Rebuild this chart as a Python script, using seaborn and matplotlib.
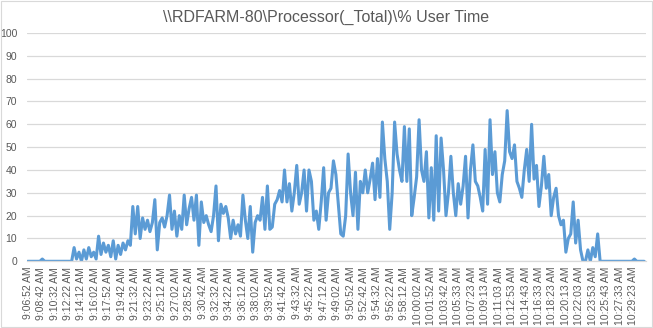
import numpy as np
import pandas as pd
import matplotlib
matplotlib.use("Agg")
import matplotlib.pyplot as plt
import seaborn as sns

title = "\\\\RDFARM-80\\Processor(_Total)\\% User Time"

tick_labels = [
    "9:06:52 AM", "9:08:42 AM", "9:10:32 AM", "9:12:22 AM", "9:14:12 AM", "9:16:02 AM",
    "9:17:52 AM", "9:19:42 AM", "9:21:32 AM", "9:23:22 AM", "9:25:12 AM", "9:27:02 AM",
    "9:28:52 AM", "9:30:42 AM", "9:32:32 AM", "9:34:22 AM", "9:36:12 AM", "9:38:02 AM",
    "9:39:52 AM", "9:41:42 AM", "9:43:32 AM", "9:45:22 AM", "9:47:12 AM", "9:49:02 AM",
    "9:50:52 AM", "9:52:42 AM", "9:54:32 AM", "9:56:22 AM", "9:58:12 AM", "10:00:02 AM",
    "10:01:52 AM", "10:03:42 AM", "10:05:33 AM", "10:07:23 AM", "10:09:13 AM", "10:11:03 AM",
    "10:12:53 AM", "10:14:43 AM", "10:16:33 AM", "10:18:23 AM", "10:20:13 AM", "10:22:03 AM",
    "10:23:53 AM", "10:25:43 AM", "10:27:33 AM", "10:29:23 AM",
]
samples_per_label = 11
samples_per_value = 2

user_time = [
    0, 0, 0, 0, 0, 0, 1, 0, 0, 0, 0, 0, 0, 0, 0, 0, 0, 0,
    0,
    6, 1, 4, 0, 5, 1, 6, 2, 4, 1, 11, 3, 8, 4, 7, 2, 9, 1, 7, 3, 8, 5, 9, 7,
    24, 12, 24, 10, 19, 14, 18, 13, 17, 27,
    5, 17, 19, 15, 20, 29, 14, 22, 11, 20,
    14, 29, 16, 23, 28, 18, 29, 7, 26, 17,
    20, 16, 13, 20, 33, 9, 25, 21, 24, 19,
    10, 18, 12, 16, 11, 29, 18, 10, 24, 4,
    17, 20, 18, 28, 14, 33, 14, 15, 25, 27,
    31, 26, 40, 26, 34, 22, 30, 42, 25, 30,
    40, 22, 40, 35, 18, 22, 14, 26, 41, 18,
    30, 32, 44, 38, 25, 12, 11, 20, 47, 30,
    20, 39, 14, 35, 30, 40, 30, 36, 43, 27,
    45, 28, 61, 45, 35, 14, 30, 61, 47, 40,
    35, 59, 35, 58, 20, 28, 37, 62, 40, 35,
    48, 19, 41, 18, 55, 22, 54, 40, 20, 30,
    46, 30, 20, 34, 25, 33, 46, 19, 40, 51,
    35, 33, 28, 22, 49, 25, 62, 38, 48, 30,
    26, 38, 44, 66, 48, 45, 51, 35, 32, 28,
    40, 49, 35, 60, 36, 42, 24, 33, 46, 32,
    38, 20, 28, 32, 20, 16, 18, 4, 10, 12,
    26, 8, 18, 5, 0, 0, 5, 0, 6, 2,
    12,
    0, 0, 0, 0, 0, 0, 0, 0, 0, 0, 0, 0, 0, 0, 1, 0, 0, 0, 0,
]

df = pd.DataFrame({
    "sample": np.arange(len(user_time)) * samples_per_value,
    "value": user_time,
})

sns.set_style("white")
plt.rcParams["font.family"] = ["Liberation Sans Narrow", "Liberation Sans", "DejaVu Sans"]

fig = plt.figure(figsize=(6.53, 3.28), dpi=100)
ax = fig.add_axes([27 / 653, 1 - 261.3 / 328, (646 - 27) / 653, (261.3 - 33) / 328])

sns.lineplot(data=df, x="sample", y="value", ax=ax, color="#5B9BD5", linewidth=2.2)

ax.set_ylim(0, 100)
ax.set_xlim(-0.5, df["sample"].max() + 1.5)
ax.set_yticks(np.arange(0, 101, 10))
ax.set_xticks(np.arange(len(tick_labels)) * samples_per_label)
ax.set_xticklabels(tick_labels, rotation=90)
ax.set_xlabel("")
ax.set_ylabel("")
ax.grid(axis="y", color="#D9D9D9", linewidth=0.9)
ax.set_axisbelow(True)
for s in ["top", "right", "left"]:
    ax.spines[s].set_visible(False)
ax.spines["bottom"].set_color("#D9D9D9")
ax.spines["bottom"].set_linewidth(0.9)
ax.tick_params(axis="both", length=0, colors="#595959", labelsize=7.5)
ax.tick_params(axis="y", pad=7)
ax.tick_params(axis="x", pad=4)

fig.text(0.5, 1 - 17 / 328, title, ha="center", va="center", fontsize=11.5, color="#595959")

fig.patches.append(plt.Rectangle((0.001, 0.002), 0.997, 0.995, transform=fig.transFigure,
                                 fill=False, edgecolor="#D9D9D9", linewidth=0.8))

fig.savefig("out.png", dpi=100, facecolor="white")
